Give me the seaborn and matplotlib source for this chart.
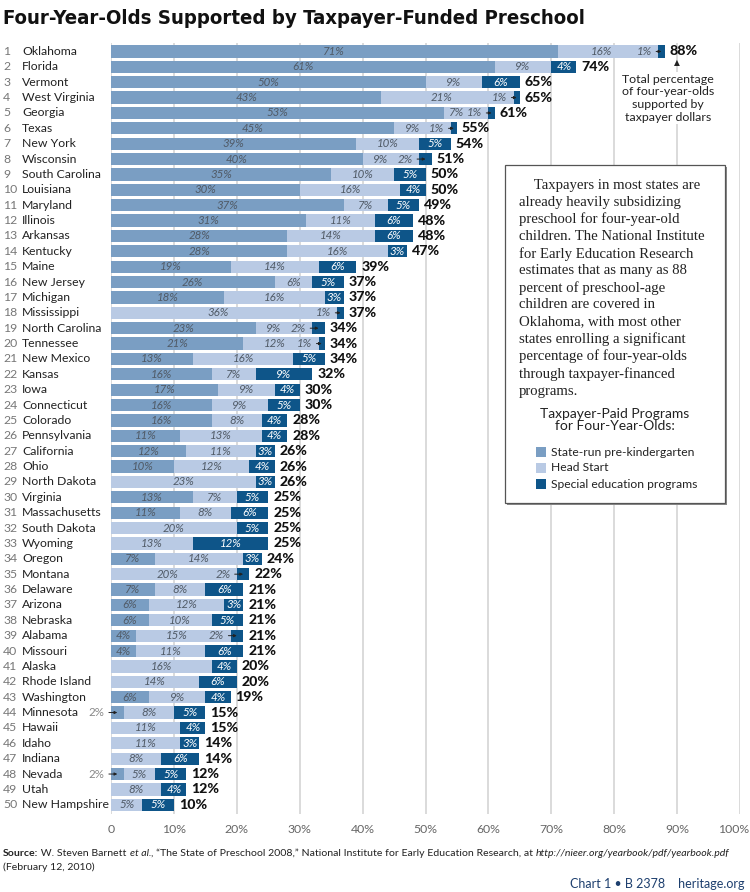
import matplotlib
matplotlib.use('Agg')
import matplotlib.pyplot as plt
import seaborn as sns
import pandas as pd
from matplotlib.patches import Rectangle
from matplotlib.transforms import blended_transform_factory, ScaledTranslation

# values (percent of four-year-olds)
states = ['Oklahoma', 'Florida', 'Vermont', 'West Virginia', 'Georgia', 'Texas',
          'New York', 'Wisconsin', 'South Carolina', 'Louisiana', 'Maryland',
          'Illinois', 'Arkansas', 'Kentucky', 'Maine', 'New Jersey', 'Michigan',
          'Mississippi', 'North Carolina', 'Tennessee', 'New Mexico', 'Kansas',
          'Iowa', 'Connecticut', 'Colorado', 'Pennsylvania', 'California', 'Ohio',
          'North Dakota', 'Virginia', 'Massachusetts', 'South Dakota', 'Wyoming',
          'Oregon', 'Montana', 'Delaware', 'Arizona', 'Nebraska', 'Alabama',
          'Missouri', 'Alaska', 'Rhode Island', 'Washington', 'Minnesota', 'Hawaii',
          'Idaho', 'Indiana', 'Nevada', 'Utah', 'New Hampshire']
pre_k = [71, 61, 50, 43, 53, 45, 39, 40, 35, 30, 37, 31, 28, 28, 19, 26, 18, 0,
         23, 21, 13, 16, 17, 16, 16, 11, 12, 10, 0, 13, 11, 0, 0, 7, 0, 7, 6, 6,
         4, 4, 0, 0, 6, 2, 0, 0, 0, 2, 0, 0]
head_start = [16, 9, 9, 21, 7, 9, 10, 9, 10, 16, 7, 11, 14, 16, 14, 6, 16, 36,
              9, 12, 16, 7, 9, 9, 8, 13, 11, 12, 23, 7, 8, 20, 13, 14, 20, 8, 12,
              10, 15, 11, 16, 14, 9, 8, 11, 11, 8, 5, 8, 5]
special_ed = [1, 4, 6, 1, 1, 1, 5, 2, 5, 4, 5, 6, 6, 3, 6, 5, 3, 1, 2, 1, 5, 9,
              4, 5, 4, 4, 3, 4, 3, 5, 6, 5, 12, 3, 2, 6, 3, 5, 2, 6, 4, 6, 4, 5,
              4, 3, 6, 5, 4, 5]
totals = [88, 74, 65, 65, 61, 55, 54, 51, 50, 50, 49, 48, 48, 47, 39, 37, 37, 37,
          34, 34, 34, 32, 30, 30, 28, 28, 26, 26, 26, 25, 25, 25, 25, 24, 22, 21,
          21, 21, 21, 21, 20, 20, 19, 15, 15, 14, 14, 12, 12, 10]
x_ticks = [0, 10, 20, 30, 40, 50, 60, 70, 80, 90, 100]
x_tick_labels = ['0', '10%', '20%', '30%', '40%', '50%', '60%', '70%', '80%', '90%', '100%']

STATE_BLUE = '#7a9ec3'
HEAD_BLUE = '#b9cae4'
SPED_BLUE = '#0e5589'
LABEL_GRAY = '#505a66'

plt.rcParams['font.family'] = ['Lato', 'DejaVu Sans']

df = pd.DataFrame({'state': states, 'pre_k': pre_k, 'head_start': head_start,
                   'special_ed': special_ed})
df['hs_end'] = df['pre_k'] + df['head_start']
df['total'] = df['hs_end'] + df['special_ed']

W, H = 750, 892
fig = plt.figure(figsize=(W / 100, H / 100), dpi=100)
ax = fig.add_axes([111 / W, 1 - 814 / H, 629 / W, 771 / H])
renderer = fig.canvas.get_renderer()


def fit_width(t, target_px):
    # shrink/grow a text so that it spans target_px
    w = t.get_window_extent(renderer).width
    t.set_fontsize(t.get_fontsize() * target_px / w)


# stacked bars by overlaying cumulative totals
sns.barplot(data=df, x='total', y='state', color=SPED_BLUE, saturation=1,
            width=0.8, errorbar=None, ax=ax, zorder=2)
sns.barplot(data=df, x='hs_end', y='state', color=HEAD_BLUE, saturation=1,
            width=0.8, errorbar=None, ax=ax, zorder=2)
sns.barplot(data=df, x='pre_k', y='state', color=STATE_BLUE, saturation=1,
            width=0.8, errorbar=None, ax=ax, zorder=2)

ax.set_xlim(0, 100)
ax.set_ylim(49.6, -0.55)
ax.set_yticks([])
ax.set_xlabel('')
ax.set_ylabel('')
ax.set_xticks(x_ticks)
ax.set_xticklabels(x_tick_labels)
ax.tick_params(axis='x', length=0, pad=7, labelsize=8.8, labelcolor='#666666')
last = ax.get_xticklabels()[-1]
last.set_transform(last.get_transform() + ScaledTranslation(-6 / 100, 0, fig.dpi_scale_trans))
ax.xaxis.grid(True, color='#d4d4d4', lw=1.2)
ax.set_axisbelow(True)
for sp in ax.spines.values():
    sp.set_visible(False)

# rank numbers and state names
trans = blended_transform_factory(fig.transFigure, ax.transData)
for i, s in enumerate(states):
    ax.text(3 / W, i, str(i + 1), transform=trans, ha='left', va='center',
            fontsize=8.8, color='#777777')
    ax.text(22 / W, i, s, transform=trans, ha='left', va='center',
            fontsize=8.8, color='#222222')

arrow = dict(arrowstyle='-|>', lw=0.7, color='#222222', mutation_scale=4,
             shrinkA=1, shrinkB=0)
seg_kw = dict(ha='center', va='center', fontsize=8.3, style='italic', zorder=4)
for i, r in df.iterrows():
    pk, hs, se = r['pre_k'], r['head_start'], r['special_ed']
    if pk >= 3:
        ax.text(pk / 2, i, f'{pk}%', color=LABEL_GRAY, **seg_kw)
    elif pk > 0:
        ax.annotate(f'{pk}%', xy=(pk / 2, i), xytext=(-1.0, i), ha='right',
                    va='center', fontsize=8.3, color='#888888',
                    annotation_clip=False, arrowprops=arrow)
    if hs > 0:
        shift = 0 if se > 2 else (1.6 if hs < 10 else 1)
        ax.text(pk + hs / 2 - shift, i, f'{hs}%', color=LABEL_GRAY, **seg_kw)
    if se >= 3:
        ax.text(r['hs_end'] + se / 2, i, f'{se}%', color='white', **seg_kw)
    else:
        ax.annotate(f'{se}%', xy=(r['hs_end'] + se / 2, i),
                    xytext=(r['hs_end'] - 1.0, i), ha='right', va='center',
                    fontsize=8.3, style='italic', color=LABEL_GRAY,
                    arrowprops=arrow, zorder=4)
    ax.text(totals[i] + 0.8, i, f'{totals[i]}%', ha='left', va='center',
            fontsize=10.2, fontweight='black', color='#111111')

# note under Oklahoma's total
ax.text(90, 0.75, '\u25b2', ha='center', va='center', fontsize=5.5,
        family='DejaVu Sans', color='#222222', zorder=5)
ax.text(88.6, 3.05, 'Total percentage\nof four-year-olds\nsupported by\ntaxpayer dollars',
        ha='center', va='center', fontsize=8.9, linespacing=1.2, color='#222222',
        zorder=5, bbox=dict(facecolor='white', edgecolor='none', pad=1))

# explanatory box with legend
bl, bt, bw, bh = 505 / W, 1 - 503 / H, 220 / W, 338 / H
fig.add_artist(Rectangle((bl + 2 / W, bt - 2 / H), bw, bh, transform=fig.transFigure,
                         facecolor='#8a8a8a', edgecolor='none', zorder=1))
fig.add_artist(Rectangle((bl, bt), bw, bh, transform=fig.transFigure,
                         facecolor='white', edgecolor='#555555', lw=0.9, zorder=1.1))

para = ('    Taxpayers in most states are\n'
        'already heavily subsidizing\n'
        'preschool for four-year-old\n'
        'children. The National Institute\n'
        'for Early Education Research\n'
        'estimates that as many as 88\n'
        'percent of preschool-age\n'
        'children are covered in\n'
        'Oklahoma, with most other\n'
        'states enrolling a significant\n'
        'percentage of four-year-olds\n'
        'through taxpayer-financed\n'
        'programs.')
fig.text(519 / W, 1 - 179 / H, para, ha='left', va='top', family='Liberation Serif',
         fontsize=10.6, linespacing=1.36, color='#222222', zorder=3)

fig.text(615 / W, 1 - 408 / H, 'Taxpayer-Paid Programs\nfor Four-Year-Olds:',
         ha='center', va='top', multialignment='center', fontsize=10,
         linespacing=1.0, color='#222222', zorder=3)
legend_items = [('State-run pre-kindergarten', STATE_BLUE),
                ('Head Start', HEAD_BLUE),
                ('Special education programs', SPED_BLUE)]
for k, (lab, col) in enumerate(legend_items):
    yc = 452 + 16 * k
    fig.add_artist(Rectangle((536 / W, 1 - (yc + 5) / H), 10 / W, 10 / H,
                             transform=fig.transFigure, facecolor=col,
                             edgecolor='none', zorder=3))
    fig.text(551 / W, 1 - yc / H, lab, ha='left', va='center', fontsize=8.7,
             color='#222222', zorder=3)

# title
title = fig.text(3 / W, 1 - 18 / H, 'Four-Year-Olds Supported by Taxpayer-Funded Preschool',
                 ha='left', va='center', fontsize=16.5, fontweight='bold',
                 family='DejaVu Sans', fontstretch='condensed', color='#111111')
fit_width(title, 582)

# source line built from styled runs
runs = [('Source:', dict(fontweight='bold')),
        (' W. Steven Barnett ', {}),
        ('et al.', dict(style='italic')),
        (', \u201cThe State of Preschool 2008,\u201d National Institute for Early '
         'Education Research, at ', {}),
        ('http://nieer.org/yearbook/pdf/yearbook.pdf', dict(style='italic'))]
src_size = 7.8
widths = []
for txt, st in runs:
    t = fig.text(0, 0, txt, fontsize=src_size, **st)
    widths.append(t.get_window_extent(renderer).width)
    t.remove()
src_size *= 728 / sum(widths)
x = 3 / W
for txt, st in runs:
    t = fig.text(x, 1 - 853 / H, txt, ha='left', va='center', fontsize=src_size,
                 color='#222222', **st)
    x += t.get_window_extent(renderer).width / fig.bbox.width
fig.text(3 / W, 1 - 867 / H, '(February 12, 2010)', ha='left', va='center',
         fontsize=src_size, color='#222222')

fig.text(745 / W, 1 - 884 / H, 'Chart 1 \u2022 B 2378    heritage.org', ha='right',
         va='center', fontsize=9, color='#1d3f6e')

fig.savefig('out.png', dpi=100)
